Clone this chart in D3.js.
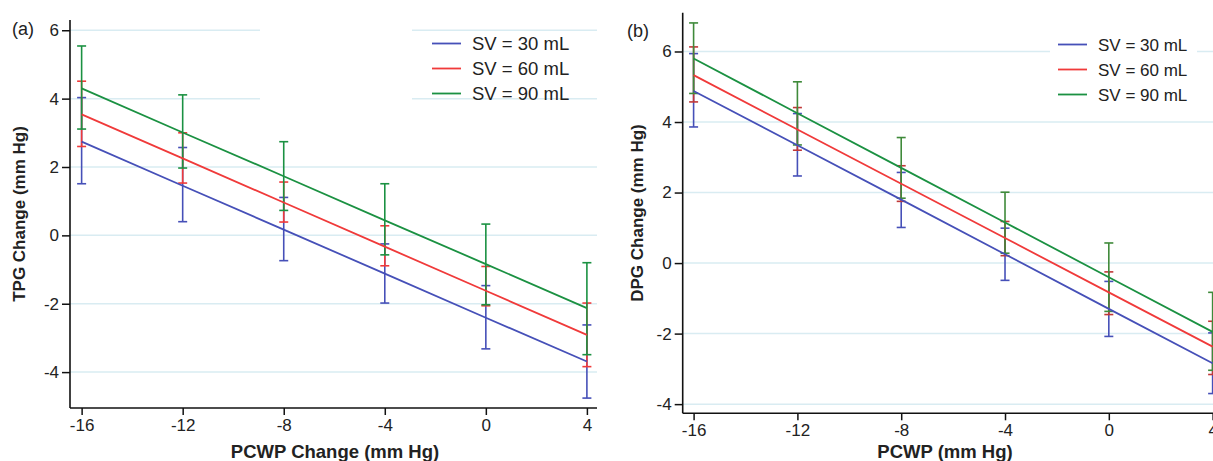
<!DOCTYPE html>
<html>
<head>
<meta charset="utf-8">
<script src="https://cdn.jsdelivr.net/npm/d3@7"></script>
<style>
  body { margin: 0; background: #fff; }
  text { font-family: Arial, "Liberation Sans", sans-serif; }
</style>
</head>
<body>
<svg id="chart" width="1213" height="461"></svg>
<script>
// shared x categories (PCWP change)
const pcwp = [-16, -12, -8, -4, 0, 4];
const xTicks = [-16, -12, -8, -4, 0, 4];
const yTicks = [6, 4, 2, 0, -2, -4];
const seriesNames = ['SV = 30 mL', 'SV = 60 mL', 'SV = 90 mL'];

// panel (a) TPG change
const tpg30 = [2.74, 1.45, 0.17, -1.12, -2.41, -3.69];
const tpg60 = [3.54, 2.25, 0.96, -0.33, -1.62, -2.91];
const tpg90 = [4.30, 3.01, 1.73, 0.44, -0.84, -2.13];
const tpg30lo = [1.51, 0.40, -0.74, -1.98, -3.32, -4.76];
const tpg30hi = [4.03, 2.57, 1.11, -0.25, -1.47, -2.62];
const tpg60lo = [2.60, 1.53, 0.39, -0.89, -2.06, -3.84];
const tpg60hi = [4.51, 3.00, 1.56, 0.28, -0.91, -1.98];
const tpg90lo = [3.11, 1.97, 0.73, -0.57, -2.03, -3.49];
const tpg90hi = [5.54, 4.11, 2.74, 1.51, 0.33, -0.80];

// panel (b) DPG change
const dpg30 = [4.88, 3.34, 1.80, 0.25, -1.30, -2.84];
const dpg60 = [5.33, 3.79, 2.25, 0.71, -0.83, -2.37];
const dpg90 = [5.80, 4.25, 2.70, 1.15, -0.40, -1.95];
const dpg30lo = [3.86, 2.47, 1.01, -0.49, -2.08, -3.70];
const dpg30hi = [5.94, 4.24, 2.57, 0.99, -0.52, -1.98];
const dpg60lo = [4.57, 3.20, 1.75, 0.21, -1.46, -3.16];
const dpg60hi = [6.13, 4.41, 2.76, 1.18, -0.25, -1.65];
const dpg90lo = [4.81, 3.35, 1.84, 0.28, -1.37, -3.04];
const dpg90hi = [6.81, 5.14, 3.56, 2.01, 0.57, -0.83];

const lineColors = ['#4650b8', '#f03a3a', '#1b9142'];

const svg = d3.select('#chart');

function drawPanel(p) {
  const g = svg.append('g');
  const x = d3.scaleLinear().domain(p.xDomain).range(p.xRange);
  const y = d3.scaleLinear().domain(p.yDomain).range(p.yRange);

  // gridlines
  g.selectAll('.grid').data(yTicks).enter().append('line')
    .attr('x1', p.xRange[0]).attr('x2', p.gridEnd)
    .attr('y1', d => y(d)).attr('y2', d => y(d))
    .attr('stroke', '#d9ecf2').attr('stroke-width', 1.5);

  if (p.blank) {
    g.append('rect').attr('x', p.blank[0]).attr('y', p.blank[1])
      .attr('width', p.blank[2]).attr('height', p.blank[3]).attr('fill', '#fff');
  }

  // axes (plain hyphen minus like the original)
  const fmt = d => String(d);
  const yAxis = g.append('g').attr('transform', 'translate(' + p.xRange[0] + ',0)')
    .call(d3.axisLeft(y).tickValues(yTicks).tickSize(8).tickPadding(3).tickFormat(fmt));
  const xAxis = g.append('g').attr('transform', 'translate(0,' + p.yRange[0] + ')')
    .call(d3.axisBottom(x).tickValues(xTicks).tickSize(7).tickPadding(4).tickFormat(fmt));
  [yAxis, xAxis].forEach(a => {
    a.select('.domain').attr('stroke', '#111').attr('stroke-width', 1.6);
    a.selectAll('.tick line').attr('stroke', '#111').attr('stroke-width', 1.5);
    a.selectAll('.tick text').attr('font-size', 17).attr('fill', '#222')
      .attr('font-family', 'Arial, "Liberation Sans", sans-serif');
  });
  yAxis.select('.domain').attr('d', 'M0,' + p.yRange[0] + 'V' + p.yRange[1]);
  xAxis.select('.domain').attr('d', 'M' + p.xRange[0] + ',0H' + p.xRange[1]);

  // series: error bars then fitted line
  p.series.forEach((s, i) => {
    const pts = pcwp.map((v, k) => ({ x: v, y: s.val[k], lo: s.lo[k], hi: s.hi[k] }));
    const eb = g.append('g').attr('stroke', p.barColors[i]).attr('stroke-width', 1.6);
    eb.selectAll('.v').data(pts).enter().append('line')
      .attr('x1', d => x(d.x)).attr('x2', d => x(d.x))
      .attr('y1', d => y(d.lo)).attr('y2', d => y(d.hi));
    eb.selectAll('.capl').data(pts).enter().append('line')
      .attr('x1', d => x(d.x) - 4.5).attr('x2', d => x(d.x) + 4.5)
      .attr('y1', d => y(d.lo)).attr('y2', d => y(d.lo));
    eb.selectAll('.caph').data(pts).enter().append('line')
      .attr('x1', d => x(d.x) - 4.5).attr('x2', d => x(d.x) + 4.5)
      .attr('y1', d => y(d.hi)).attr('y2', d => y(d.hi));
  });
  p.series.forEach((s, i) => {
    const pts = pcwp.map((v, k) => [v, s.val[k]]);
    g.append('path').datum(pts)
      .attr('d', d3.line().x(d => x(d[0])).y(d => y(d[1])))
      .attr('fill', 'none').attr('stroke', lineColors[i]).attr('stroke-width', 1.8);
  });

  // legend
  if (p.legendBg) {
    g.append('rect').attr('x', p.legendBg[0]).attr('y', p.legendBg[1])
      .attr('width', p.legendBg[2]).attr('height', p.legendBg[3]).attr('fill', '#fff');
  }
  seriesNames.forEach((name, i) => {
    const ly = p.legend[1] + i * 25;
    g.append('line').attr('x1', p.legend[0]).attr('x2', p.legend[0] + 29)
      .attr('y1', ly).attr('y2', ly).attr('stroke', lineColors[i]).attr('stroke-width', 1.8);
    g.append('text').attr('x', p.legend[0] + 40).attr('y', ly + 6.5)
      .attr('font-size', p.legendSize).attr('fill', '#222').text(name);
  });

  // titles
  g.append('text').attr('x', p.tag[0]).attr('y', p.tag[1]).attr('font-size', 18)
    .attr('fill', '#222').text(p.tagText);
  g.append('text').attr('transform', 'translate(' + p.yTitle[0] + ',' + p.yTitle[1] + ') rotate(-90)')
    .attr('text-anchor', 'middle').attr('font-size', 17).attr('font-weight', 'bold')
    .attr('fill', '#222').text(p.yTitleText);
  g.append('text').attr('x', p.xTitle[0]).attr('y', p.xTitle[1])
    .attr('text-anchor', 'middle').attr('font-size', 18.5).attr('font-weight', 'bold')
    .attr('fill', '#222').text(p.xTitleText);
}

drawPanel({
  xDomain: [-16.46, 4.4], xRange: [70, 597],
  yDomain: [-5.05, 6.3], yRange: [408, 20],
  gridEnd: 597,
  blank: [260, 24, 152, 82],
  series: [
    { val: tpg30, lo: tpg30lo, hi: tpg30hi },
    { val: tpg60, lo: tpg60lo, hi: tpg60hi },
    { val: tpg90, lo: tpg90lo, hi: tpg90hi }
  ],
  barColors: ['#4650b8', '#f03a3a', '#1b9142'],
  legend: [432, 43.5], legendSize: 18.5,
  tag: [12, 35], tagText: '(a)',
  yTitle: [25, 214], yTitleText: 'TPG Change (mm Hg)',
  xTitle: [335, 458], xTitleText: 'PCWP Change (mm Hg)'
});

drawPanel({
  xDomain: [-16.42, 4.5], xRange: [682.7, 1225.6],
  yDomain: [-4.26, 7.1], yRange: [413.3, 12.7],
  gridEnd: 1213,
  legendBg: [1050, 28, 147, 76],
  series: [
    { val: dpg30, lo: dpg30lo, hi: dpg30hi },
    { val: dpg60, lo: dpg60lo, hi: dpg60hi },
    { val: dpg90, lo: dpg90lo, hi: dpg90hi }
  ],
  barColors: ['#4650b8', '#c03838', '#3f8a3a'],
  legend: [1058, 44.5], legendSize: 17,
  tag: [627, 37], tagText: '(b)',
  yTitle: [643, 213], yTitleText: 'DPG Change (mm Hg)',
  xTitle: [945, 458], xTitleText: 'PCWP (mm Hg)'
});
</script>
</body>
</html>
